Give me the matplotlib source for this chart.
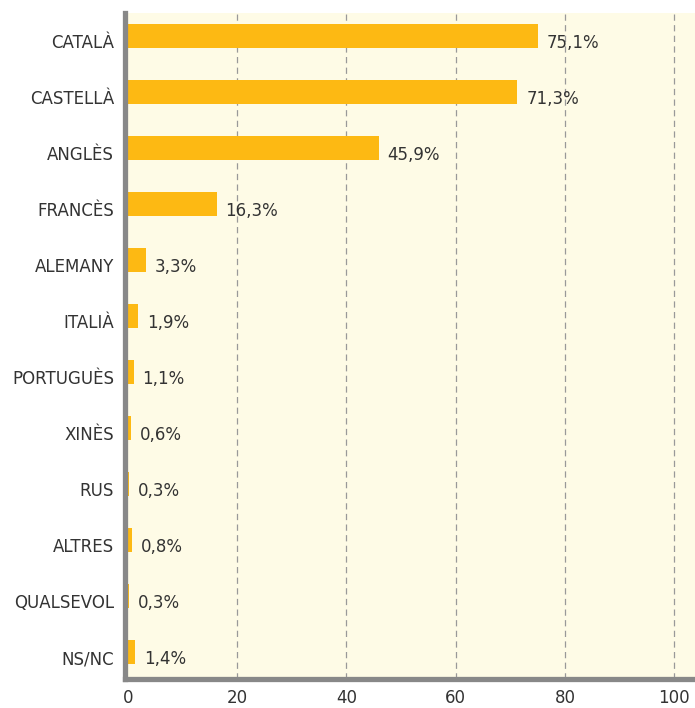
import matplotlib
matplotlib.use("Agg")
import matplotlib.pyplot as plt
from matplotlib.transforms import ScaledTranslation

categories = ["CATALÀ", "CASTELLÀ", "ANGLÈS", "FRANCÈS", "ALEMANY", "ITALIÀ",
              "PORTUGUÈS", "XINÈS", "RUS", "ALTRES", "QUALSEVOL", "NS/NC"]
values = [75.1, 71.3, 45.9, 16.3, 3.3, 1.9, 1.1, 0.6, 0.3, 0.8, 0.3, 1.4]
xticks = [0, 20, 40, 60, 80, 100]

W, H = 695, 708
fig = plt.figure(figsize=(W / 100, H / 100), dpi=100)
left, right, top, bottom = 125, 695, 13, 679
ax = fig.add_axes([left / W, 1 - bottom / H, (right - left) / W, (bottom - top) / H])

bar_color = "#FDB913"
text_color = "#333333"
ax.set_facecolor("#FEFBE6")
bar_h = 0.434

ypos = list(range(len(categories)))
ax.barh(ypos, values, height=bar_h, color=bar_color, zorder=2)
for y, v in zip(ypos, values):
    ax.text(v + 1.6, y + bar_h / 2, f"{v:.1f}".replace(".", ",") + "%", va="baseline", ha="left",
            fontsize=12, color=text_color)

ax.set_xlim(-0.51, 103.79)
ax.set_ylim(11.48, -0.41)
ax.set_yticks(ypos)
ax.set_yticklabels([])
ytrans = ax.get_yaxis_transform() + ScaledTranslation(-11 / 100, 0, fig.dpi_scale_trans)
for y, c in zip(ypos, categories):
    ax.text(0, y + bar_h / 2, c, transform=ytrans, ha="right", va="baseline",
            fontsize=12, color=text_color)

ax.set_xticks(xticks)
ax.set_xticklabels([str(t) for t in xticks], fontsize=12, color=text_color)
ax.tick_params(axis="both", length=0)
ax.tick_params(axis="x", pad=7)

for x in xticks[1:]:
    ax.axvline(x, color="#999999", linestyle=(0, (5, 3.5)), linewidth=0.9, zorder=1)

for s in ["top", "right"]:
    ax.spines[s].set_visible(False)
for s in ["left", "bottom"]:
    ax.spines[s].set_color("#888888")
    ax.spines[s].set_linewidth(3.8)
    ax.spines[s].set_zorder(3)
    ax.spines[s].set_capstyle("projecting")

fig.savefig("out.png", dpi=100)
